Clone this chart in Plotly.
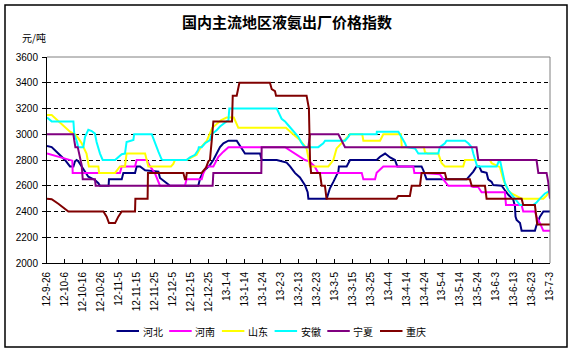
import plotly.graph_objects as go

tick_labels = ["12-9-26","12-10-6","12-10-16","12-10-26","12-11-5","12-11-15","12-11-25",
               "12-12-5","12-12-15","12-12-25","13-1-4","13-1-14","13-1-24","13-2-3",
               "13-2-13","13-2-23","13-3-5","13-3-15","13-3-25","13-4-4","13-4-14",
               "13-4-24","13-5-4","13-5-14","13-5-24","13-6-3","13-6-13","13-6-23","13-7-3"]
tick_days = list(range(0, 281, 10))

series_names = ["河北", "河南", "山东", "安徽", "宁夏", "重庆"]
series_colors = ["#000080", "#FF00FF", "#FFFF00", "#00FFFF", "#800080", "#800000"]

# (day offset from 12-9-26, price)
hebei = [(0,2910),(2.6,2900),(6.3,2850),(10,2800),(12.8,2750),(14.7,2750),(15.6,2790),(16.5,2800),
         (17.4,2790),(19.3,2750),(21.2,2700),(23,2670),(26.7,2645),(28.6,2620),(29.5,2600),(34.3,2600),
         (34.5,2650),(41.6,2650),(42.5,2700),(49,2700),(49.9,2750),(51.8,2750),(54.6,2720),(62,2710),
         (62.9,2660),(65,2640),(67.5,2610),(68.5,2600),(84.2,2600),(85.2,2655),(87,2710),(88.9,2735),
         (90.7,2760),(92.6,2800),(94.4,2850),(96.3,2900),(98.2,2930),(101,2950),(105.6,2950),(107,2920),
         (108.4,2880),(110.2,2850),(118.6,2850),(119.5,2800),(127.9,2800),(133.4,2780),(135.3,2750),
         (138,2700),(140.8,2665),(143.6,2605),(145.1,2550),(145.5,2500),(155.7,2500),(157.5,2580),
         (159.4,2630),(160.3,2660),(162.2,2710),(162.5,2750),(166.8,2750),(168.7,2800),(183.5,2800),
         (185.4,2825),(188.2,2850),(191,2820),(193.7,2800),(195,2750),(208.5,2750),(209.5,2720),
         (211.3,2650),(233.6,2650),(235.4,2680),(237.3,2710),(239.1,2750),(240.6,2750),(241.9,2710),
         (244.7,2700),(245.6,2650),(247.5,2630),(248.4,2605),(253.1,2600),(254.9,2565),(256.8,2530),
         (259.6,2490),(260.5,2440),(260.8,2360),(261.4,2335),(263.3,2310),(264.2,2250),(271.6,2250),
         (272.5,2295),(274.4,2360),(276.3,2400),(280,2400)]
henan = [(0,2850),(2.6,2840),(7.2,2820),(10,2810),(12.8,2800),(14.1,2795),(14.3,2700),(40.6,2700),
         (41.6,2750),(49,2750),(49.9,2800),(55.5,2800),(57.4,2750),(60,2700),(62.9,2600),(76.8,2600),
         (77.7,2650),(86.1,2650),(87,2695),(88.9,2750),(92.6,2750),(93.5,2775),(95.4,2825),(98.2,2865),
         (101,2900),(132.5,2900),(136,2870),(140.8,2830),(143.6,2800),(146,2790),(149,2750),(151,2700),
         (175.2,2700),(176.1,2650),(182.6,2650),(183.5,2700),(187.2,2750),(203.9,2750),(204.5,2700),
         (209.5,2700),(218.7,2690),(220.6,2650),(223.4,2600),(235.4,2600),(237.3,2590),(240,2590),
         (241.9,2550),(254.9,2550),(255.5,2450),(264.2,2450),(265.1,2400),(271.6,2400),(272.5,2360),
         (274.4,2310),(276.3,2250),(280,2250)]
shandong = [(0,3150),(2.6,3150),(12.8,3020),(15.6,3000),(17.4,2970),(19.3,2930),(22,2850),(23.3,2750),
            (28.6,2750),(29,2700),(37.9,2700),(40.6,2750),(43.4,2750),(44.3,2850),(54.6,2850),(56.4,2750),
            (69,2750),(70.3,2770),(71.2,2800),(77.7,2800),(80.5,2820),(83.3,2840),(85.2,2890),(89,2950),
            (92,3050),(97,3110),(100,3130),(104,3130),(106.5,3050),(133,3050),(137,3000),(140.8,2955),
            (144.5,2890),(145.5,2800),(146.4,2750),(156.6,2750),(159.4,2800),(161.2,2890),(164,2930),
            (165.9,2955),(168.7,3000),(175.5,3000),(176.1,2950),(185.4,2950),(187.2,3000),(197,3000),
            (197.5,2900),(209.8,2900),(210.4,2860),(212,2850),(217.8,2850),(219.7,2775),(221.5,2750),
            (231.7,2750),(232.7,2800),(246.6,2800),(247.5,2775),(251.2,2750),(252.1,2745),(254,2650),
            (256.8,2560),(258.6,2540),(263.3,2510),(264.2,2500),(276.3,2500),(278.2,2525),(280,2580)]
anhui = [(0,3130),(2.6,3100),(14.7,3100),(15.2,3000),(16.5,2950),(17.4,2900),(20.2,2900),(21.2,2980),
         (23,3035),(24.9,3025),(26.7,3005),(27.6,2940),(29.5,2850),(30.4,2810),(31,2800),(37.9,2800),
         (39.7,2825),(41.6,2845),(43.4,2850),(44.3,2940),(48.1,2955),(48.5,3000),(58.3,3000),(60.1,2930),
         (62,2865),(63.8,2805),(64.5,2800),(77.7,2800),(79.6,2820),(82.4,2840),(84.2,2880),(84.5,2900),
         (86.1,2900),(88,2930),(90.7,2955),(91.7,3000),(94.4,3030),(96.3,3060),(99.1,3090),(101,3110),
         (101.5,3200),(127.9,3200),(130.6,3120),(132.5,3100),(134.3,3070),(137,3030),(139.9,2980),
         (141.8,2930),(143.6,2900),(151,2900),(153.8,2930),(154.8,2950),(165.9,2950),(167.7,2980),
         (168.7,3000),(183.5,3000),(183.6,3020),(195.6,3020),(197.4,2980),(199.3,2930),(200.2,2900),
         (204.9,2890),(206.7,2850),(217.8,2850),(218.7,2900),(221.5,2930),(222.4,2950),(232.7,2950),
         (234.5,2930),(236.4,2900),(237.3,2850),(238.2,2800),(239.1,2760),(239.5,2750),(250.3,2750),
         (251.5,2790),(252.3,2790),(253,2747),(254,2695),(254.9,2620),(256.8,2565),(259.6,2515),
         (261.4,2490),(263.3,2450),(270.7,2450),(272.5,2470),(274.4,2500),(277.2,2540),(280,2560)]
ningxia = [(0,3000),(14.7,3000),(15.2,2950),(15.8,2900),(17.1,2900),(18.4,2800),(19.3,2760),(19.9,2650),
           (26.7,2650),(27.1,2600),(92.2,2600),(92.6,2700),(119.3,2700),(119.5,2900),(145.5,2900),
           (146.4,3000),(162.2,3000),(165.9,2900),(239.1,2900),(240.1,2800),(272.5,2800),(273.5,2700),
           (278.1,2700),(279,2630),(280,2500)]
chongqing = [(0,2500),(2.6,2495),(6.3,2460),(10,2420),(11.9,2400),(31.4,2400),(33.2,2360),(34.5,2310),
             (37.9,2310),(39.7,2360),(41.6,2400),(49,2400),(49.2,2500),(56,2500),(56.2,2700),(75.9,2700),
             (76.8,2650),(77.4,2650),(77.8,2700),(86.1,2700),(88.5,2740),(89.8,2790),(90.7,2800),
             (91.7,2950),(92.6,3100),(103,3100),(103.4,3300),(105.6,3300),(106.5,3350),(107.1,3400),
             (124.1,3400),(125.1,3350),(126.9,3335),(127.5,3300),(144.5,3300),(145.1,3250),(145.8,3200),
             (146.4,2800),(147,2700),(151.9,2700),(152.9,2600),(154.7,2600),(155.6,2500),(194.6,2500),
             (195.5,2520),(202,2520),(203,2600),(207.6,2600),(208.5,2700),(221.5,2700),(222.4,2650),
             (235.4,2650),(236.4,2600),(243.8,2600),(244.7,2500),(264.2,2500),(265.1,2450),(271.6,2450),
             (272.9,2300),(280,2300)]

all_series = [hebei, henan, shandong, anhui, ningxia, chongqing]

fig = go.Figure()
for name, color, data in zip(series_names, series_colors, all_series):
    fig.add_trace(go.Scatter(x=[d for d, v in data], y=[v for d, v in data], mode="lines",
                             name=name, line=dict(color=color, width=2), hoverinfo="skip"))

# plot area in pixels
L, R, T, B = 47, 550, 57, 263
W, H = 573, 353
def px(x):
    return (x - L) / (R - L)
def py(y):
    return (B - y) / (B - T)

shapes = [
    dict(type="line", xref="paper", yref="paper", x0=0, x1=1, y0=1, y1=1, line=dict(color="#808080", width=1), layer="above"),
    dict(type="line", xref="paper", yref="paper", x0=1, x1=1, y0=0, y1=1, line=dict(color="#808080", width=1), layer="above"),
    dict(type="rect", xref="paper", yref="paper", x0=px(5), x1=px(567), y0=py(347), y1=py(5),
         line=dict(color="black", width=1.5), layer="above"),
]
annotations = [
    dict(text="<b>国内主流地区液氨出厂价格指数</b>", xref="paper", yref="paper", x=px(287), y=py(21),
         xanchor="center", yanchor="middle", showarrow=False,
         font=dict(size=15, family="Noto Sans CJK SC", color="black")),
    dict(text="元/吨", xref="paper", yref="paper", x=px(20), y=py(37),
         xanchor="left", yanchor="middle", showarrow=False,
         font=dict(size=10, family="Noto Sans CJK SC", color="black")),
]
# manual legend
leg_x0, leg_step, leg_y = 116.5, 52.7, 331
for i, (name, color) in enumerate(zip(series_names, series_colors)):
    x0 = leg_x0 + i * leg_step
    shapes.append(dict(type="line", xref="paper", yref="paper", x0=px(x0), x1=px(x0 + 22.5),
                       y0=py(leg_y), y1=py(leg_y), line=dict(color=color, width=2)))
    annotations.append(dict(text=name, xref="paper", yref="paper", x=px(x0 + 24), y=py(leg_y),
                            xanchor="left", yanchor="middle", showarrow=False,
                            font=dict(size=10, family="Noto Sans CJK SC", color="black")))

fig.update_layout(
    width=W, height=H, margin=dict(l=L, r=W - R, t=T, b=H - B),
    paper_bgcolor="white", plot_bgcolor="white", showlegend=False,
    shapes=shapes, annotations=annotations,
    xaxis=dict(range=[0, 280], tickvals=tick_days, ticktext=tick_labels, tickangle=-90,
               showgrid=False, zeroline=False, showline=True, linecolor="black", linewidth=1,
               ticks="inside", ticklen=4, tickcolor="black", ticklabelstandoff=4,
               tickfont=dict(size=10, family="Liberation Sans", color="black")),
    yaxis=dict(range=[2000, 3600], dtick=200, tickformat="d", showgrid=True, gridcolor="black",
               gridwidth=1, griddash="4px,3px", zeroline=False, showline=True, linecolor="black",
               linewidth=1, ticks="outside", ticklen=4, tickcolor="black", ticklabelstandoff=2,
               tickfont=dict(size=10, family="Liberation Sans", color="black")),
)
fig.write_html("out.html")
